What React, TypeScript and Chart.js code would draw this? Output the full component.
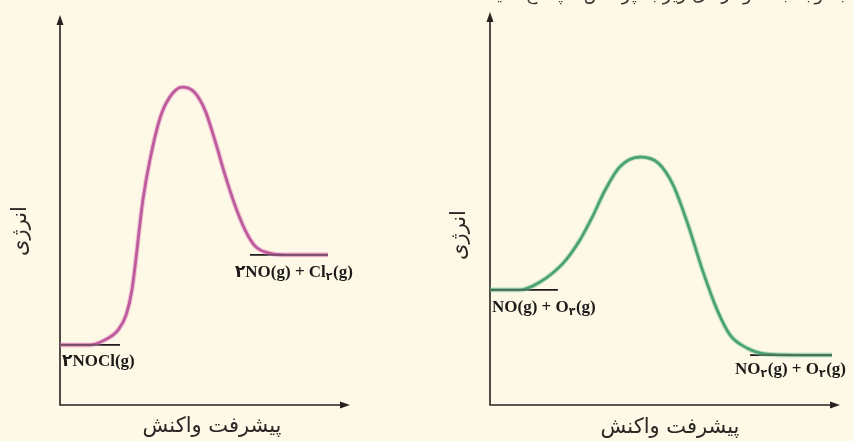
import React, { useEffect, useRef } from "react";
import { Chart, registerables } from "chart.js";

Chart.register(...registerables);

// ---------- DATA ----------
// Left diagram: 2NOCl(g) -> 2NO(g) + Cl2(g)
const leftProgress = [0, 10.3, 15.5, 20.0, 22.8, 24.8, 28.6, 31.0, 34.5, 37.9, 42.1, 46.2, 50.0, 53.4, 56.9, 60.3, 63.8, 67.2, 71.7, 77.6, 92.4];
const leftEnergy = [15.4, 15.4, 16.7, 19.2, 23.1, 29.5, 52.6, 62.8, 73.6, 79.0, 81.5, 80.3, 75.6, 67.9, 59.0, 51.3, 44.9, 40.8, 39.0, 38.5, 38.5];
const leftReactantX = [0, 20.7];
const leftReactantE = [15.4, 15.4];
const leftProductX = [65.5, 92.4];
const leftProductE = [38.5, 38.5];

// Right diagram: NO(g) + O3(g) -> NO2(g) + O2(g)
const rightProgress = [0, 8.6, 14.3, 20.9, 25.7, 29.1, 32.9, 37.1, 42.9, 48.0, 52.3, 56.6, 60.9, 64.9, 68.6, 73.4, 78.6, 88.6, 97.7];
const rightEnergy = [29.3, 29.3, 31.3, 36.1, 42.0, 47.6, 54.7, 60.6, 63.1, 61.6, 56.0, 45.8, 33.8, 24.2, 17.8, 14.5, 13.0, 12.7, 12.7];
const rightReactantX = [0, 19.4];
const rightReactantE = [29.3, 29.3];
const rightProductX = [74.3, 97.7];
const rightProductE = [12.7, 12.7];

// Text
const yAxisTitle = "انرژی";
const xAxisTitle = "پیشرفت واکنش";
const topText = "با توجه به نمودارهای زیر به پرسش‌ها پاسخ دهید";
const leftReactantLabel = ["۲NOCl(g)"];
const leftProductLabel = ["۲NO(g) + Cl", "_۲", "(g)"];
const rightReactantLabel = ["NO(g) + O", "_۳", "(g)"];
const rightProductLabel = ["NO", "_۲", "(g) + O", "_۲", "(g)"];

// ---------- DRAWING ----------
const BG = "#FEF8E6";
const AXIS = "#262320";
const FONT_CHEM = "'Liberation Serif', 'DejaVu Serif', 'DejaVu Sans', serif";
const FONT_FA = "'DejaVu Sans', 'Noto Sans', sans-serif";

type LevelSpec = { xs: number[]; ys: number[]; label: string[]; dx: number; dy: number };
type Spec = {
  width: number;
  height: number;
  pad: { left: number; right: number; top: number; bottom: number };
  xs: number[];
  ys: number[];
  color: string;
  halo: string;
  levels: LevelSpec[];
  yTitle: { x: number; y: number };
  xTitle: { x: number; y: number };
  top?: { x: number; y: number };
};

function drawChem(ctx: CanvasRenderingContext2D, x: number, y: number, parts: string[]) {
  let cx = x;
  ctx.fillStyle = "#1d1b19";
  ctx.textAlign = "left";
  ctx.textBaseline = "alphabetic";
  for (const p of parts) {
    if (p.startsWith("_")) {
      ctx.font = `bold 11px ${FONT_CHEM}`;
      const t = p.slice(1);
      ctx.fillText(t, cx, y + 3);
      cx += ctx.measureText(t).width + 0.5;
    } else {
      ctx.font = `bold 17px ${FONT_CHEM}`;
      ctx.fillText(p, cx, y);
      cx += ctx.measureText(p).width;
    }
  }
}

function makePlugin(spec: Spec) {
  return {
    id: "diagram",
    beforeDraw(chart: any) {
      const ctx = chart.ctx as CanvasRenderingContext2D;
      ctx.save();
      ctx.fillStyle = BG;
      ctx.fillRect(0, 0, chart.width, chart.height);
      ctx.restore();
    },
    beforeDatasetsDraw(chart: any) {
      const ctx = chart.ctx as CanvasRenderingContext2D;
      const { left, top, right, bottom } = chart.chartArea;
      ctx.save();
      ctx.strokeStyle = AXIS;
      ctx.fillStyle = AXIS;
      ctx.lineWidth = 1.6;
      ctx.beginPath();
      ctx.moveTo(left, top + 6);
      ctx.lineTo(left, bottom);
      ctx.lineTo(right - 6, bottom);
      ctx.stroke();
      // arrow heads
      ctx.beginPath();
      ctx.moveTo(left, top);
      ctx.lineTo(left - 3.5, top + 10);
      ctx.lineTo(left + 3.5, top + 10);
      ctx.closePath();
      ctx.fill();
      ctx.beginPath();
      ctx.moveTo(right, bottom);
      ctx.lineTo(right - 10, bottom - 3.5);
      ctx.lineTo(right - 10, bottom + 3.5);
      ctx.closePath();
      ctx.fill();
      ctx.restore();
    },
    afterDatasetsDraw(chart: any) {
      const ctx = chart.ctx as CanvasRenderingContext2D;
      const xs = chart.scales.x;
      const ys = chart.scales.y;
      ctx.save();
      for (const lv of spec.levels) {
        const px = xs.getPixelForValue(lv.xs[0]);
        const py = ys.getPixelForValue(lv.ys[0]);
        drawChem(ctx, px + lv.dx, py + lv.dy, lv.label);
      }
      ctx.fillStyle = "#2a2725";
      ctx.font = `21px ${FONT_FA}`;
      ctx.textAlign = "center";
      ctx.textBaseline = "middle";
      ctx.fillText(xAxisTitle, spec.xTitle.x, spec.xTitle.y);
      ctx.save();
      ctx.translate(spec.yTitle.x, spec.yTitle.y);
      ctx.rotate(-Math.PI / 2);
      ctx.font = `21px ${FONT_FA}`;
      ctx.fillText(yAxisTitle, 0, 0);
      ctx.restore();
      if (spec.top) {
        ctx.font = `18px ${FONT_FA}`;
        ctx.textAlign = "right";
        ctx.textBaseline = "alphabetic";
        ctx.fillStyle = "#3a3632";
        ctx.fillText(topText, spec.top.x, spec.top.y);
      }
      ctx.restore();
    },
  };
}

function pts(xs: number[], ys: number[]) {
  return xs.map((x, i) => ({ x, y: ys[i] }));
}

function Diagram({ spec }: { spec: Spec }) {
  const ref = useRef<HTMLCanvasElement | null>(null);
  useEffect(() => {
    const canvas = ref.current;
    if (!canvas) return;
    const curve = pts(spec.xs, spec.ys);
    const datasets: any[] = [
      {
        data: curve,
        borderColor: spec.halo,
        borderWidth: 5,
        pointRadius: 0,
        cubicInterpolationMode: "monotone",
        fill: false,
      },
      ...spec.levels.map((lv) => ({
        data: pts(lv.xs, lv.ys),
        borderColor: "#1f1d1b",
        borderWidth: 1.8,
        pointRadius: 0,
        fill: false,
      })),
      {
        data: curve,
        borderColor: spec.color,
        borderWidth: 2.8,
        pointRadius: 0,
        cubicInterpolationMode: "monotone",
        fill: false,
      },
    ];
    const chart = new Chart(canvas, {
      type: "line",
      data: { datasets },
      options: {
        animation: false,
        responsive: false,
        events: [],
        layout: { padding: spec.pad },
        plugins: { legend: { display: false }, tooltip: { enabled: false }, title: { display: false } },
        scales: {
          x: { type: "linear", min: 0, max: 100, display: false },
          y: { type: "linear", min: 0, max: 100, display: false },
        },
      },
      plugins: [makePlugin(spec) as any],
    });
    return () => chart.destroy();
  }, [spec]);
  return <canvas ref={ref} width={spec.width} height={spec.height} style={{ display: "block" }} />;
}

const leftSpec: Spec = {
  width: 430,
  height: 441,
  pad: { left: 60, right: 80, top: 15, bottom: 36 },
  xs: leftProgress,
  ys: leftEnergy,
  color: "#A3337C",
  halo: "rgba(225,140,195,0.45)",
  levels: [
    { xs: leftReactantX, ys: leftReactantE, label: leftReactantLabel, dx: 2, dy: 21 },
    { xs: leftProductX, ys: leftProductE, label: leftProductLabel, dx: -15, dy: 22 },
  ],
  yTitle: { x: 21, y: 231 },
  xTitle: { x: 212, y: 427 },
};

const rightSpec: Spec = {
  width: 423,
  height: 441,
  pad: { left: 60, right: 13, top: 12, bottom: 36 },
  xs: rightProgress,
  ys: rightEnergy,
  color: "#1F8049",
  halo: "rgba(130,205,165,0.45)",
  levels: [
    { xs: rightReactantX, ys: rightReactantE, label: rightReactantLabel, dx: 2, dy: 22 },
    { xs: rightProductX, ys: rightProductE, label: rightProductLabel, dx: -15, dy: 19 },
  ],
  yTitle: { x: 30, y: 235 },
  xTitle: { x: 240, y: 428 },
  top: { x: 415, y: 0 },
};

export default function App() {
  return (
    <div
      style={{
        position: "fixed",
        left: 0,
        top: 0,
        width: 853,
        height: 441,
        background: BG,
        display: "flex",
        overflow: "hidden",
      }}
    >
      <Diagram spec={leftSpec} />
      <Diagram spec={rightSpec} />
    </div>
  );
}
